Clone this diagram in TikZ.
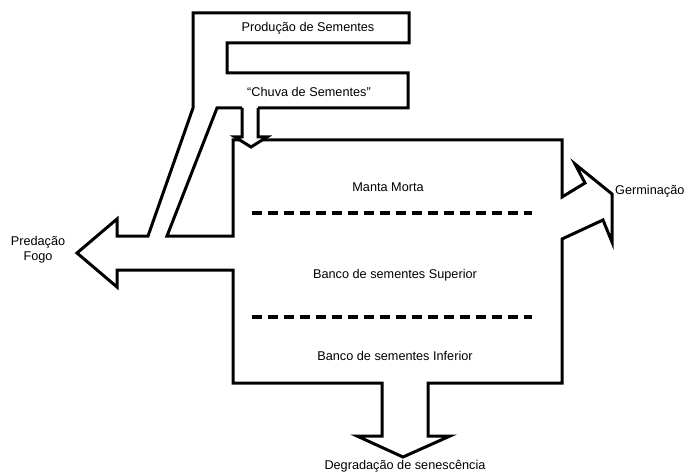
\documentclass[tikz,border=0pt]{standalone}
\usepackage{fontspec}
\setmainfont{Liberation Sans}
\usepackage{tikz}

\begin{document}
\begin{tikzpicture}[
    x=1pt, y=-1pt,
    every node/.style={font=\fontsize{12.7}{15}\selectfont, inner sep=0pt},
    outline/.style={draw, line width=3pt, line join=miter},
    layer/.style={draw, line width=3.2pt, dash pattern=on 10pt off 6pt}
]
  \useasboundingbox (0,0) rectangle (684,473);

  % Outer outline: seed production, rain, box and outgoing arrows
  \draw[outline] (242,108) -- (217,108) -- (167,236) -- (233,236) -- (233,140)
    -- (562,140) -- (562,197)
    % Germinacao arrow
    -- (585,183) -- (575,164) -- (612,194) -- (612,242) -- (603,220) -- (562,239)
    -- (562,383) -- (428,383)
    % degradation arrow
    -- (428,436) -- (450,436) -- (403,457) -- (357,436) -- (382,436) -- (382,383)
    -- (233,383) -- (233,270)
    % predation arrow
    -- (117,270) -- (117,287) -- (77,253) -- (117,219) -- (117,236) -- (148,236)
    % E shape on top
    -- (193,108) -- (193,13) -- (409,13) -- (409,43) -- (227,43) -- (227,73)
    -- (408,73) -- (408,108) -- (258,108);

  % Small arrow into the box
  \fill[white] (242,108) -- (242,137) -- (235,137) -- (251,147) -- (267,137)
    -- (258,137) -- (258,108) -- cycle;
  \draw[outline] (242,108) -- (242,137) -- (235,137) -- (251,147) -- (267,137)
    -- (258,137) -- (258,108);

  % Layer boundaries
  \coordinate (l1a) at (252,213);
  \coordinate (l1b) at (532,213);
  \coordinate (l2a) at (252,317);
  \coordinate (l2b) at (532,317);
  \draw[layer] (l1a) -- (l1b);
  \draw[layer] (l2a) -- (l2b);

  % Labels
  \node (prod)  at (308,28)  {Produção de Sementes};
  \node (chuva) at (309,92)  {“Chuva de Sementes”};
  \node (manta) at (388,187) {Manta Morta};
  \node (sup)   at (395,275) {Banco de sementes Superior};
  \node (inf)   at (395,356) {Banco de sementes Inferior};
  \node (degr)  at (405,466) {Degradação de senescência};
  \node[align=center] (pred) at (38,250) {Predação\\Fogo};
  \node[anchor=west] (germ) at (615,191) {Germinação};
\end{tikzpicture}
\end{document}
